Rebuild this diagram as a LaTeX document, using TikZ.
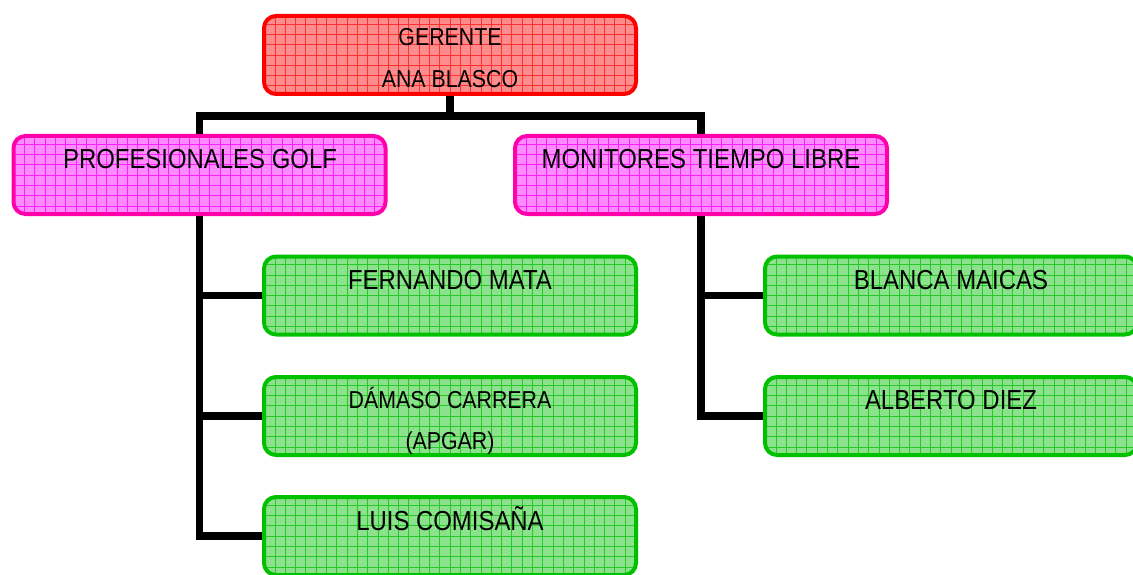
\documentclass[tikz,border=0pt]{standalone}
\usepackage{fontspec}
\setmainfont{Liberation Sans}[FakeStretch=0.87]
\usetikzlibrary{backgrounds}
\definecolor{redB}{RGB}{255,0,0}
\definecolor{redF}{RGB}{255,140,140}
\definecolor{redG}{RGB}{255,50,50}
\definecolor{magB}{RGB}{255,0,170}
\definecolor{magF}{RGB}{255,140,255}
\definecolor{magG}{RGB}{255,30,255}
\definecolor{grnB}{RGB}{0,192,0}
\definecolor{grnF}{RGB}{140,226,140}
\definecolor{grnG}{RGB}{40,200,40}
\tikzset{
  box/.style={rectangle, rounded corners=12pt, line width=4pt,
    minimum width=372pt, minimum height=78pt, inner sep=0pt, outer sep=0pt,
    path picture={\draw[#1, line width=0.8pt, step=10.3pt]
      (path picture bounding box.south west) grid (path picture bounding box.north east);}},
  redbox/.style={box=redG, draw=redB, fill=redF},
  magbox/.style={box=magG, draw=magB, fill=magF},
  grnbox/.style={box=grnG, draw=grnB, fill=grnF},
  bigtxt/.style={font=\fontsize{27.5}{33}\selectfont, anchor=base, inner sep=0pt},
  smalltxt/.style={font=\fontsize{24.5}{29}\selectfont, anchor=base, inner sep=0pt},
  conn/.style={line width=7.5pt, black, line join=miter}
}
\begin{document}
\begin{tikzpicture}[x=1pt,y=-1pt]
\useasboundingbox (0,0) rectangle (1133,575);
\clip (0,0) rectangle (1133,575);
% boxes
\node[redbox] (ger) at (450,55) {};
\node[magbox] (prof) at (199.5,175) {};
\node[magbox] (mon) at (701,175) {};
\node[grnbox] (fer) at (450,295.5) {};
\node[grnbox] (dam) at (450,416) {};
\node[grnbox] (luis) at (450,536) {};
\node[grnbox] (bla) at (951,295.5) {};
\node[grnbox] (alb) at (951,416) {};
% texts
\node[smalltxt] (gerT1) at (450,46) {GERENTE};
\node[smalltxt] (gerT2) at (450,88) {ANA BLASCO};
\node[bigtxt] (profT) at (200,168) {PROFESIONALES GOLF};
\node[bigtxt] (monT) at (701,168) {MONITORES TIEMPO LIBRE};
\node[bigtxt] (ferT) at (450,289) {FERNANDO MATA};
\node[smalltxt] (damT1) at (450,408) {DÁMASO CARRERA};
\node[smalltxt] (damT2) at (450,449) {(APGAR)};
\node[bigtxt] (luisT) at (450,530) {LUIS COMISAÑA};
\node[bigtxt] (blaT) at (951,289) {BLANCA MAICAS};
\node[bigtxt] (albT) at (951,409) {ALBERTO DIEZ};
% connectors
\coordinate (j) at (450,116);
\begin{pgfonlayer}{background}
\draw[conn] (ger.south) -- (j);
\draw[conn] (prof.north) |- (j) -| (mon.north);
\draw[conn] (prof.south) |- (luis.west);
\draw[conn] (prof.south |- fer.west) -- (fer.west);
\draw[conn] (prof.south |- dam.west) -- (dam.west);
\draw[conn] (mon.south) |- (alb.west);
\draw[conn] (mon.south |- bla.west) -- (bla.west);
\end{pgfonlayer}
\end{tikzpicture}
\end{document}
